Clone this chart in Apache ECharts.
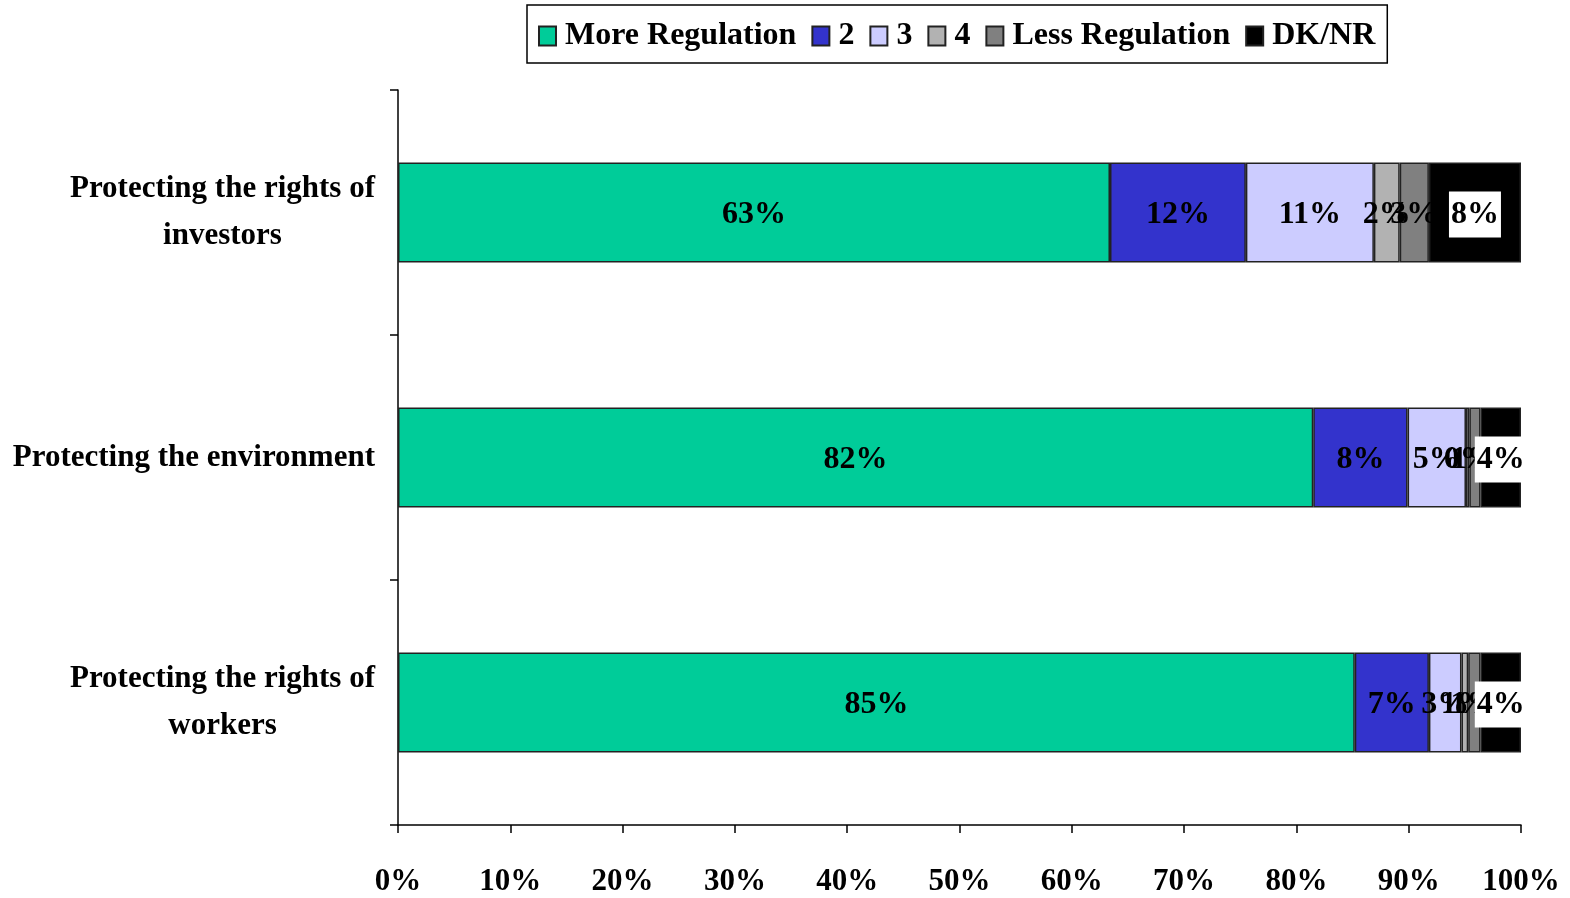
<!DOCTYPE html>
<html>
<head>
<meta charset="utf-8">
<script src="https://cdn.jsdelivr.net/npm/echarts@6/dist/echarts.min.js"></script>
<style>
  html, body { margin: 0; padding: 0; background: #fff; }
  #chart { width: 1570px; height: 898px; }
</style>
</head>
<body>
<div id="chart"></div>
<script>
const categories = [
  "Protecting the rights of\ninvestors",
  "Protecting the environment",
  "Protecting the rights of\nworkers",
];
const seriesNames = ["More Regulation", "2", "3", "4", "Less Regulation", "DK/NR"];
const moreRegulation = [63.4, 81.5, 85.2];
const two = [12.1, 8.4, 6.6];
const three = [11.4, 5.2, 2.9];
const four = [2.3, 0.3, 0.6];
const lessRegulation = [2.6, 1.0, 1.1];
const dkNr = [8.2, 3.6, 3.6];
const xTicks = [0, 10, 20, 30, 40, 50, 60, 70, 80, 90, 100];

const colors = ["#00cc99", "#3333cc", "#ccccff", "#b2b2b2", "#808080", "#000000"];
const font = "'Liberation Serif', 'Times New Roman', serif";
const seriesData = [moreRegulation, two, three, four, lessRegulation, dkNr];

const chart = echarts.init(document.getElementById("chart"));

const option = {
  animation: false,
  textStyle: { fontFamily: font, fontWeight: "bold", color: "#000" },
  legend: {
    left: 527,
    top: 5,
    padding: [15, 12, 11, 11],
    borderColor: "#000",
    borderWidth: 1.5,
    itemWidth: 17,
    itemHeight: 19,
    itemGap: 15,
    icon: "rect",
    data: seriesNames,
    textStyle: { fontFamily: font, fontWeight: "bold", fontSize: 32, color: "#000", padding: [0, 0, 0, 4] },
  },
  grid: { left: 398, right: 49, top: 90, bottom: 73 },
  xAxis: {
    type: "value",
    min: 0,
    max: 100,
    interval: 10,
    splitLine: { show: false },
    axisLine: { show: true, lineStyle: { color: "#000", width: 1.5 } },
    axisTick: { show: true, length: 8, lineStyle: { color: "#000", width: 1.5 } },
    axisLabel: {
      margin: 41,
      fontFamily: font,
      fontWeight: "bold",
      fontSize: 31,
      color: "#000",
      formatter: (v) => (xTicks.includes(v) ? v + "%" : ""),
    },
  },
  yAxis: {
    type: "category",
    inverse: true,
    data: categories,
    axisLine: { show: true, lineStyle: { color: "#000", width: 1.5 } },
    axisTick: { show: true, length: 8, lineStyle: { color: "#000", width: 1.5 } },
    axisLabel: {
      margin: 23,
      fontFamily: font,
      fontWeight: "bold",
      fontSize: 31,
      color: "#000",
      lineHeight: 47,
      formatter: (v) => v.split("\n").map((l) => "{c|" + l + "}").join("\n"),
      rich: {
        c: {
          align: "center",
          fontFamily: font,
          fontWeight: "bold",
          fontSize: 31,
          lineHeight: 47,
          color: "#000",
        },
      },
    },
  },
  series: seriesNames.map((name, i) => ({
    name: name,
    type: "bar",
    stack: "total",
    barWidth: 100,
    data: seriesData[i],
    itemStyle: { color: colors[i], borderColor: "#222", borderWidth: 1.5 },
    label: {
      show: true,
      position: "inside",
      offset: [0, 2],
      fontFamily: font,
      fontWeight: "bold",
      fontSize: 32,
      color: "#000",
      backgroundColor: i === 5 ? "#fff" : "transparent",
      padding: i === 5 ? [8, 2, 6, 2] : 0,
      formatter: (p) => Math.round(p.value) + "%",
    },
  })),
};

chart.setOption(option);
</script>
</body>
</html>
